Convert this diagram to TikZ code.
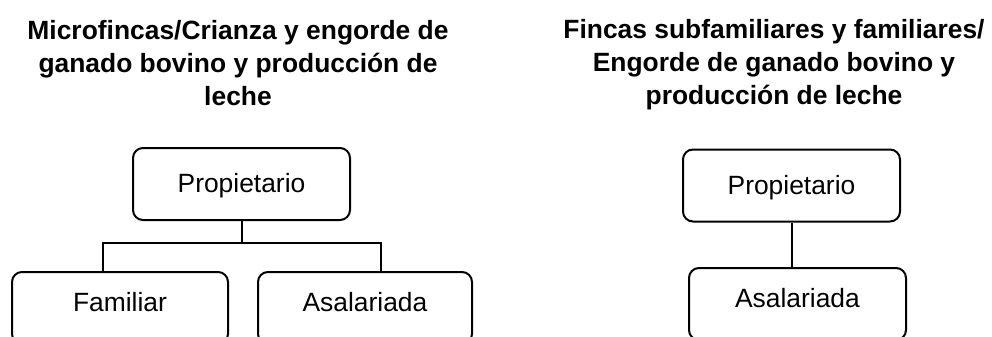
\documentclass[tikz,border=0pt]{standalone}
\usepackage{fontspec}
\setmainfont{Liberation Sans}
\usetikzlibrary{positioning}
\tikzset{
    cargo/.style={draw, rounded corners=5pt, line width=1pt, minimum height=36pt,
        inner sep=0pt, font=\fontsize{13.2}{16}\selectfont},
    titulo/.style={align=center, font=\fontsize{13.2}{16.5}\selectfont\bfseries},
    rama/.style={line width=1pt}
}

\begin{document}
\begin{tikzpicture}[x=0.5pt, y=-0.5pt]
    \useasboundingbox (0,0) rectangle (992,337);
    % titulos
    \node[titulo] (tit1) at (238, 63) {Microfincas/Crianza y engorde de\\ganado bovino y producción de\\leche};
    \node[titulo] (tit2) at (774, 65) {Fincas subfamiliares y familiares/\\Engorde de ganado bovino y\\producción de leche};
    % organigrama izquierdo
    \node[cargo, minimum width=108.5pt, text depth=1pt] (prop1) at (241.5, 184) {Propietario};
    \node[cargo, minimum width=108pt, text depth=6pt] (fam) at (120, 308) {Familiar};
    \node[cargo, minimum width=107pt, text depth=6pt] (asa1) at (365, 308) {Asalariada};
    \coordinate (ramaL) at (103, 243);
    \coordinate (ramaR) at (381, 243);
    \draw[rama] (prop1.south) -- (prop1.south |- ramaL);
    \draw[rama] (ramaL |- fam.north) -- (ramaL) -- (ramaR) -- (ramaR |- asa1.north);
    % organigrama derecho
    \node[cargo, minimum width=108.5pt, text depth=1pt] (prop2) at (791.5, 185.5) {Propietario};
    \node[cargo, minimum width=108.5pt, text depth=6pt] (asa2) at (797.5, 304) {Asalariada};
    \draw[rama] (prop2.south) -- (prop2.south |- asa2.north);
\end{tikzpicture}
\end{document}
